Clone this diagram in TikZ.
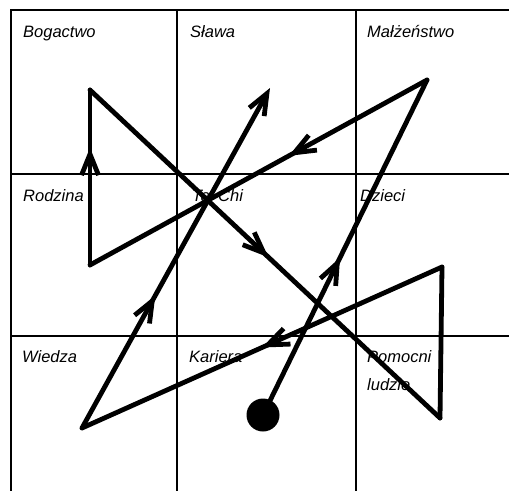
\documentclass[tikz,border=0pt]{standalone}
\usepackage{fontspec}
\setmainfont{Liberation Sans}
\usetikzlibrary{arrows.meta, decorations.markings}

\begin{document}
\begin{tikzpicture}[
    x=1pt, y=-1pt,
    grid/.style={line width=1.4pt},
    field/.style={anchor=base west, inner sep=0pt, font=\fontsize{16.5}{28}\selectfont\itshape, align=left},
    route/.style={line width=4.8pt, line cap=round},
    midarrow/.style={route, postaction={decorate}, decoration={markings, mark=at position #1 with {\arrow{Straight Barb[length=21pt, width=17pt]}}}},
    dot/.style={circle, fill, minimum size=33pt, inner sep=0pt}
]
\useasboundingbox (0,0) rectangle (509,491);

% Grid
\draw[grid] (509,10) -- (11,10) -- (11,491);
\draw[grid] (177,10) -- (177,491);
\draw[grid] (356,10) -- (356,491);
\draw[grid] (11,174) -- (509,174);
\draw[grid] (11,336) -- (509,336);

% Fields
\node[field] (bogactwo) at (23,37) {Bogactwo};
\node[field] (slawa) at (190,37) {Sława};
\node[field] (malzenstwo) at (367,37) {Małżeństwo};
\node[field] (rodzina) at (23,201) {Rodzina};
\node[field] (taichi) at (192,201) {Tai Chi};
\node[field] (dzieci) at (360,201) {Dzieci};
\node[field] (wiedza) at (22,362) {Wiedza};
\node[field] (kariera) at (189,362) {Kariera};
\node[field] (pomocni) at (367,390) {Pomocni\\ludzie};

% Route corners
\coordinate (start) at (263,415);
\coordinate (cMalz) at (427,80);
\coordinate (cRodz) at (90,265);
\coordinate (cBog) at (90,90);
\coordinate (cPomB) at (440,418);
\coordinate (cPomT) at (442,267);
\coordinate (cWied) at (82,428);
\coordinate (cSlaw) at (270,88);

% Route
\draw[midarrow=0.47] (start) -- (cMalz);
\draw[midarrow=0.41] (cMalz) -- (cRodz);
\draw[midarrow=0.67] (cRodz) -- (cBog);
\draw[midarrow=0.51] (cBog) -- (cPomB);
\draw[route] (cPomB) -- (cPomT);
\draw[midarrow=0.5] (cPomT) -- (cWied);
\draw[midarrow=0.39, -{Straight Barb[length=21pt, width=17pt]}] (cWied) -- (cSlaw);

% Start point
\node[dot] (begin) at (start) {};

\end{tikzpicture}
\end{document}
